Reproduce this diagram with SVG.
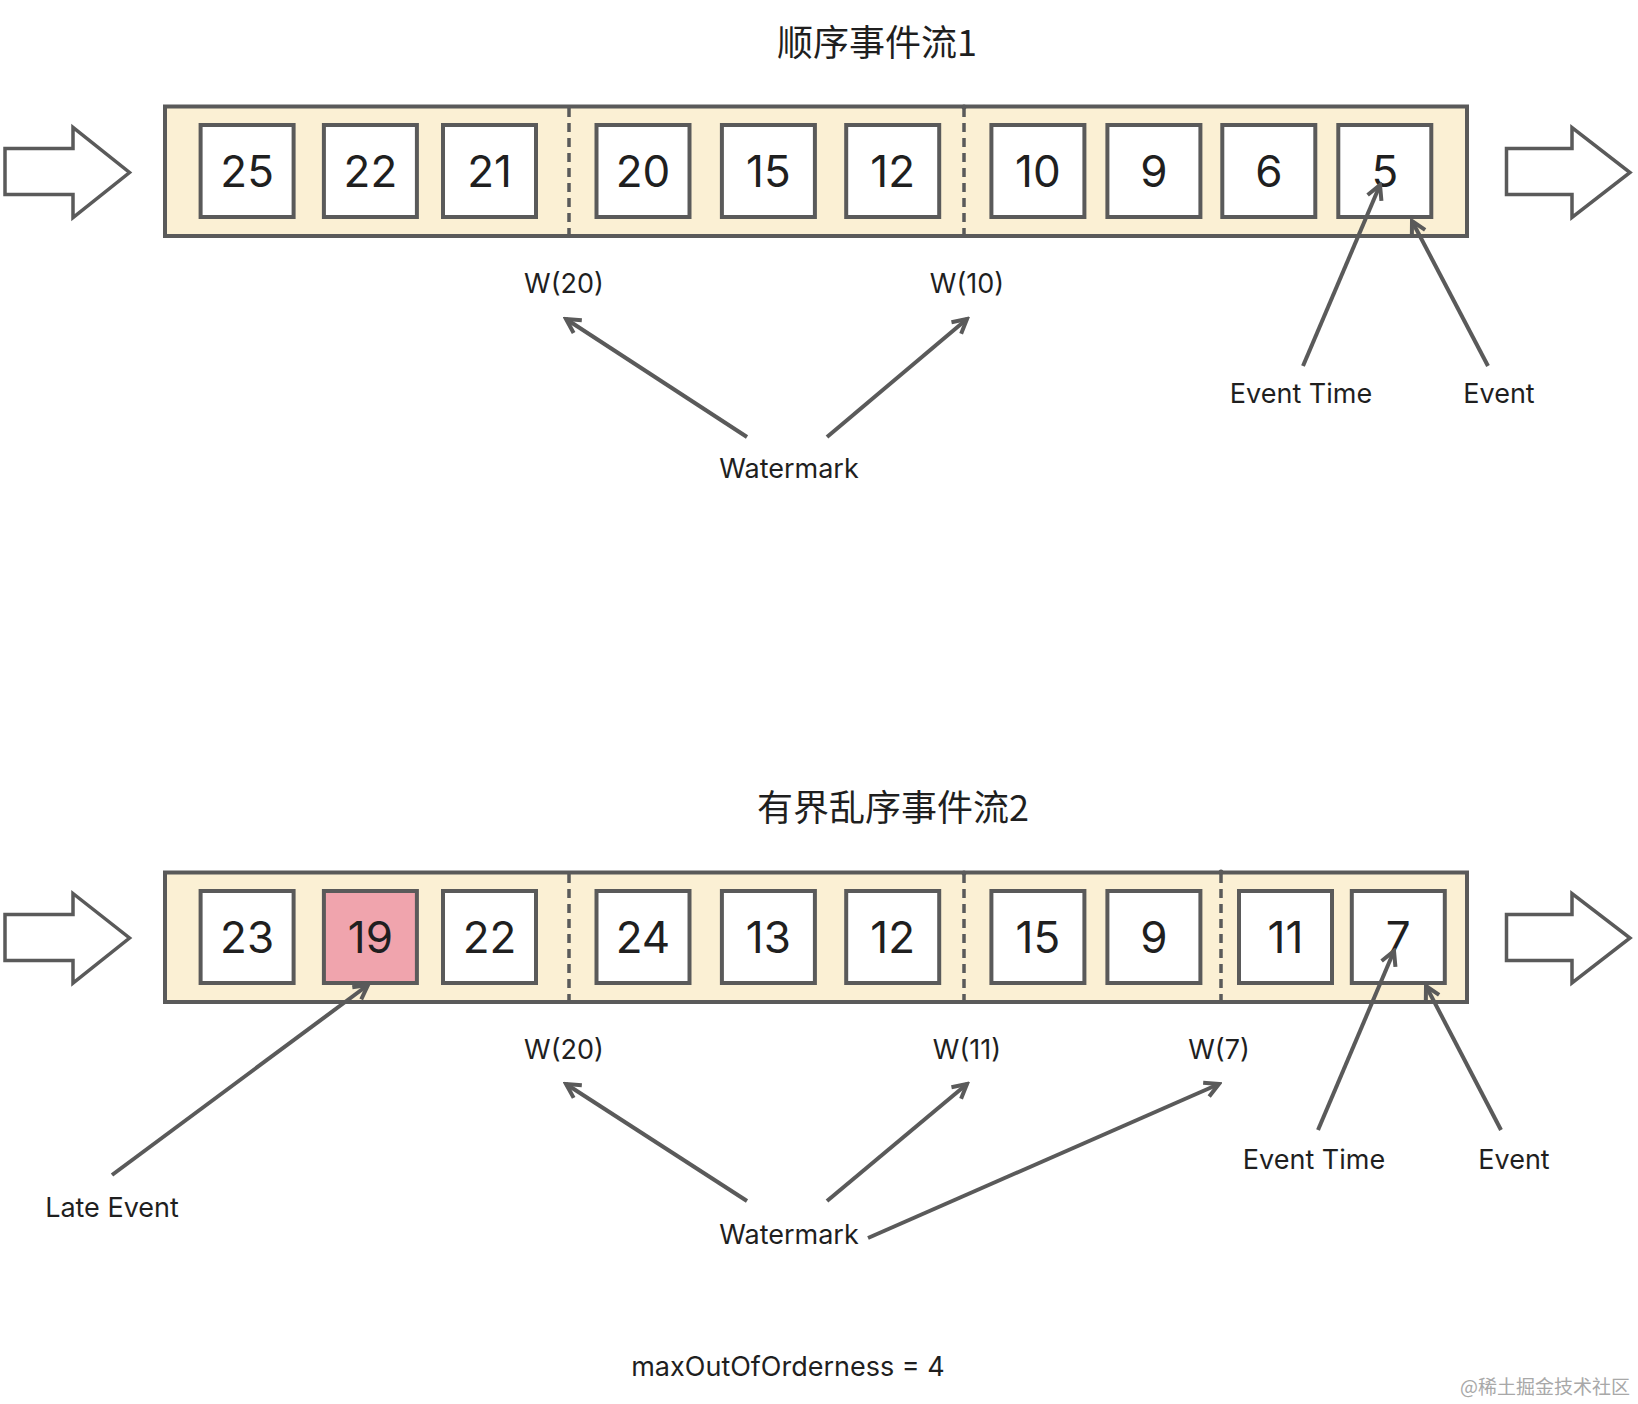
<svg xmlns="http://www.w3.org/2000/svg" width="1638" height="1404" viewBox="0 0 1638 1404">
<style>
.bg{fill:#ffffff}
.lane{fill:#fbf0d4;stroke:#5a5a5a;stroke-width:4}
.box{fill:#ffffff;stroke:#5a5a5a;stroke-width:4}
.late{fill:#f0a4ad}
.sep{stroke:#5a5a5a;stroke-width:3.5;stroke-dasharray:9 6;fill:none}
.dot{fill:#5a5a5a}
.blk{fill:#ffffff;stroke:#5a5a5a;stroke-width:3.5;stroke-linejoin:miter}
.num{font-family:Inter,"Noto Sans",sans-serif;font-size:44px;fill:#1f1f1f;text-anchor:middle}
.lbl{font-family:Inter,"Noto Sans",sans-serif;font-size:27px;fill:#1f1f1f;text-anchor:middle}
.ttl{font-family:"Noto Sans CJK SC",sans-serif;font-size:36px;fill:#1f1f1f;text-anchor:middle}
.wm{font-family:"Noto Sans CJK SC",sans-serif;font-size:19px;fill:#a8a8a8;text-anchor:end}
.conn{stroke:#5a5a5a;stroke-width:4;fill:none;marker-end:url(#ah)}
</style>
<defs>
<marker id="ah" markerUnits="userSpaceOnUse" viewBox="0 0 20 20" refX="17" refY="10" markerWidth="20" markerHeight="20" orient="auto">
<path d="M3,2.5 L17,10 L3,17.5" fill="none" stroke="#5a5a5a" stroke-width="4"/>
</marker>
</defs>
<rect class="bg" x="0" y="0" width="1638" height="1404"/>

<!-- Stream 1 -->
<g id="title1"><text class="ttl" x="877" y="56">顺序事件流1</text></g>
<g id="in-arrow1"><polygon class="blk" points="5,148.5 73,148.5 73,127.5 129.5,172.5 73,217.5 73,194.5 5,194.5"/></g>
<g id="out-arrow1"><polygon class="blk" points="1506.5,148.5 1572,148.5 1572,127.5 1630,172.5 1572,217.5 1572,194.5 1506.5,194.5"/></g>
<g id="stream1">
<rect class="lane" x="165" y="106.5" width="1302" height="129.5"/>
<line class="sep" x1="569" y1="108" x2="569" y2="235"/>
<line class="sep" x1="964" y1="108" x2="964" y2="235"/>
<circle class="dot" cx="964" cy="107" r="2.5"/>
</g>
<g id="s1-e25"><rect class="box" x="200.6" y="125" width="93" height="92"/><text class="num" x="247.1" y="187">25</text></g>
<g id="s1-e22"><rect class="box" x="323.9" y="125" width="93" height="92"/><text class="num" x="370.4" y="187">22</text></g>
<g id="s1-e21"><rect class="box" x="443" y="125" width="93" height="92"/><text class="num" x="489.5" y="187">21</text></g>
<g id="s1-e20"><rect class="box" x="596.5" y="125" width="93" height="92"/><text class="num" x="643" y="187">20</text></g>
<g id="s1-e15"><rect class="box" x="721.9" y="125" width="93" height="92"/><text class="num" x="768.4" y="187">15</text></g>
<g id="s1-e12"><rect class="box" x="846.2" y="125" width="93" height="92"/><text class="num" x="892.7" y="187">12</text></g>
<g id="s1-e10"><rect class="box" x="991.4" y="125" width="93" height="92"/><text class="num" x="1037.9" y="187">10</text></g>
<g id="s1-e9"><rect class="box" x="1107.4" y="125" width="93" height="92"/><text class="num" x="1153.9" y="187">9</text></g>
<g id="s1-e6"><rect class="box" x="1222.3" y="125" width="93" height="92"/><text class="num" x="1268.8" y="187">6</text></g>
<g id="s1-e5"><rect class="box" x="1338.3" y="125" width="93" height="92"/><text class="num" x="1384.8" y="187">5</text></g>
<g id="s1-labels">
<text class="lbl" x="564" y="293">W(20)</text>
<text class="lbl" x="967" y="293">W(10)</text>
<text class="lbl" x="1301" y="403">Event Time</text>
<text class="lbl" x="1499" y="403">Event</text>
<text class="lbl" x="789" y="478">Watermark</text>
</g>

<!-- Stream 2 -->
<g id="title2"><text class="ttl" x="893" y="821">有界乱序事件流2</text></g>
<g id="in-arrow2"><polygon class="blk" points="5,914.5 73,914.5 73,893.5 129.5,938 73,983 73,960.5 5,960.5"/></g>
<g id="out-arrow2"><polygon class="blk" points="1506.5,914.5 1572,914.5 1572,893.5 1630,938 1572,983 1572,960.5 1506.5,960.5"/></g>
<g id="stream2">
<rect class="lane" x="165" y="872.5" width="1302" height="129.5"/>
<line class="sep" x1="569" y1="874" x2="569" y2="1001"/>
<line class="sep" x1="964" y1="874" x2="964" y2="1001"/>
<line class="sep" x1="1221" y1="874" x2="1221" y2="1001"/>
<circle class="dot" cx="964" cy="873" r="2.5"/>
<circle class="dot" cx="1221" cy="872" r="2.5"/>
</g>
<g id="s2-e23"><rect class="box" x="200.6" y="891" width="93" height="92"/><text class="num" x="247.1" y="953">23</text></g>
<g id="s2-e19"><rect class="box late" x="323.9" y="891" width="93" height="92"/><text class="num" x="370.4" y="953">19</text></g>
<g id="s2-e22"><rect class="box" x="443" y="891" width="93" height="92"/><text class="num" x="489.5" y="953">22</text></g>
<g id="s2-e24"><rect class="box" x="596.5" y="891" width="93" height="92"/><text class="num" x="643" y="953">24</text></g>
<g id="s2-e13"><rect class="box" x="721.9" y="891" width="93" height="92"/><text class="num" x="768.4" y="953">13</text></g>
<g id="s2-e12"><rect class="box" x="846.2" y="891" width="93" height="92"/><text class="num" x="892.7" y="953">12</text></g>
<g id="s2-e15"><rect class="box" x="991.4" y="891" width="93" height="92"/><text class="num" x="1037.9" y="953">15</text></g>
<g id="s2-e9"><rect class="box" x="1107.4" y="891" width="93" height="92"/><text class="num" x="1153.9" y="953">9</text></g>
<g id="s2-e11"><rect class="box" x="1239" y="891" width="93" height="92"/><text class="num" x="1285.5" y="953">11</text></g>
<g id="s2-e7"><rect class="box" x="1351.8" y="891" width="93" height="92"/><text class="num" x="1398.3" y="953">7</text></g>
<g id="s2-labels">
<text class="lbl" x="564" y="1059">W(20)</text>
<text class="lbl" x="967" y="1059">W(11)</text>
<text class="lbl" x="1219" y="1059">W(7)</text>
<text class="lbl" x="1314" y="1169">Event Time</text>
<text class="lbl" x="1514" y="1169">Event</text>
<text class="lbl" x="112" y="1217">Late Event</text>
<text class="lbl" x="789" y="1244">Watermark</text>
<text class="lbl" x="788" y="1376">maxOutOfOrderness = 4</text>
</g>

<!-- Connectors -->
<g id="connectors">
<line class="conn" x1="747" y1="437" x2="566" y2="319"/>
<line class="conn" x1="827" y1="437" x2="967" y2="319"/>
<line class="conn" x1="1303" y1="366" x2="1380" y2="185"/>
<line class="conn" x1="1488" y1="366" x2="1412" y2="221"/>
<line class="conn" x1="112" y1="1175" x2="368" y2="985"/>
<line class="conn" x1="747" y1="1201" x2="566" y2="1084"/>
<line class="conn" x1="827" y1="1201" x2="967" y2="1084"/>
<line class="conn" x1="868" y1="1238" x2="1219" y2="1084"/>
<line class="conn" x1="1318" y1="1130" x2="1394" y2="951"/>
<line class="conn" x1="1501" y1="1130" x2="1426" y2="986"/>
</g>

<g id="site-watermark"><text class="wm" x="1630" y="1394">@稀土掘金技术社区</text></g>
</svg>
